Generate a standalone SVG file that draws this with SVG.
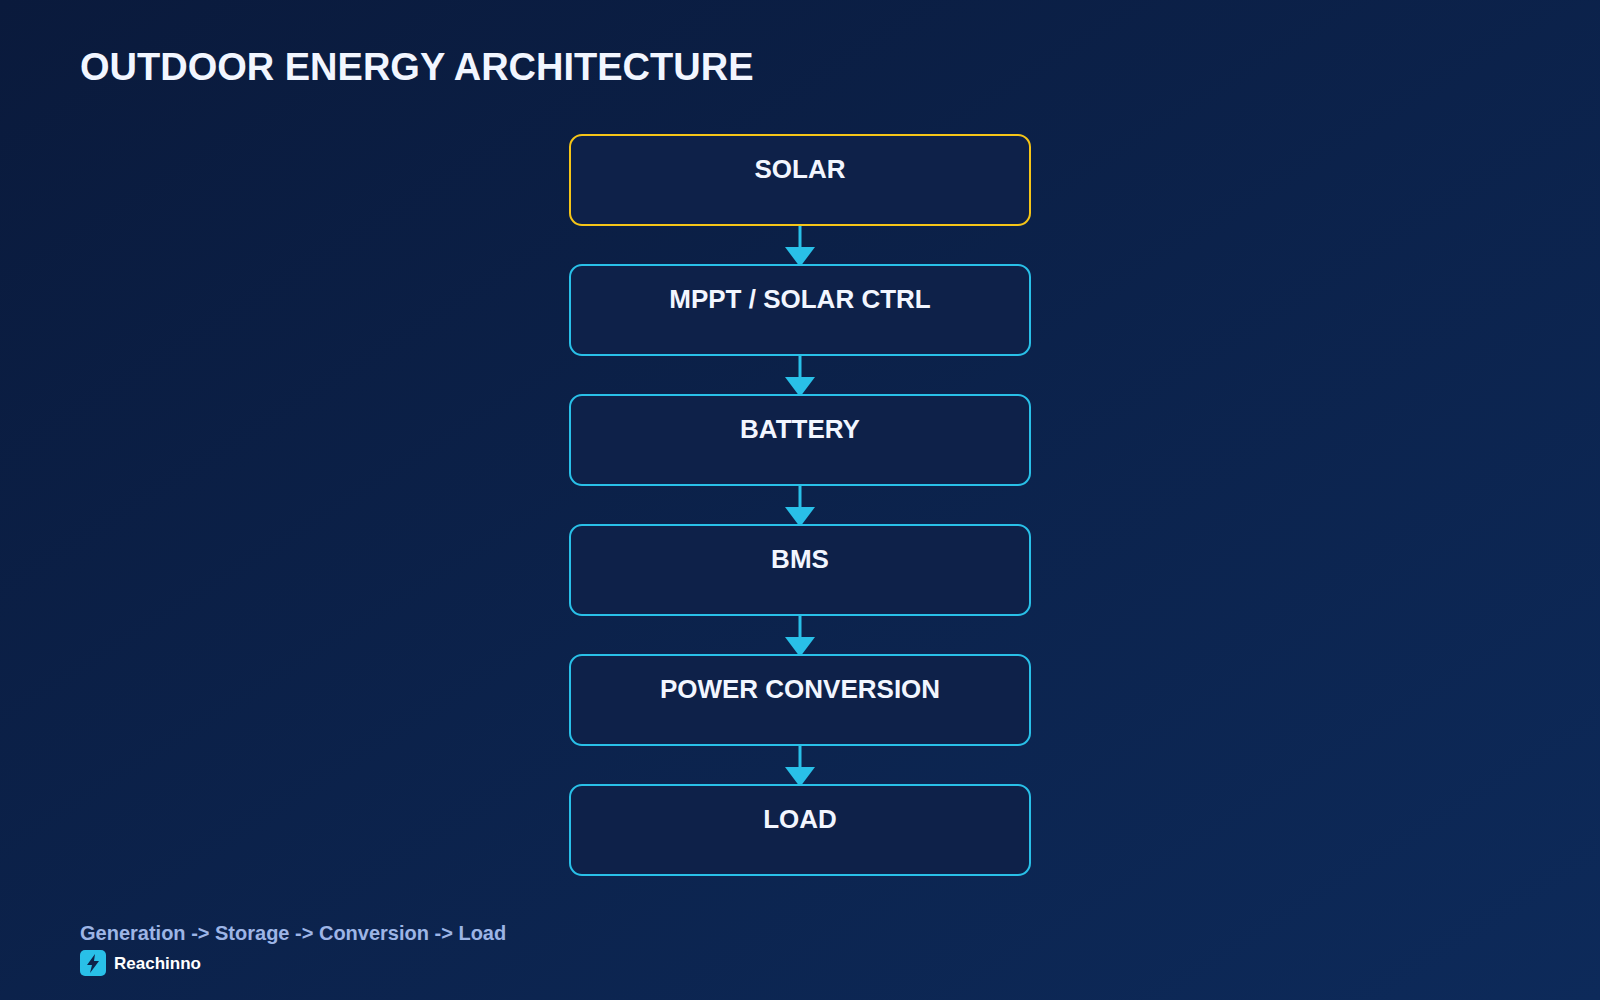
<svg xmlns="http://www.w3.org/2000/svg" width="1600" height="1000" viewBox="0 0 1600 1000">
<defs>
<linearGradient id="bg" x1="0" y1="0" x2="1" y2="1">
<stop offset="0" stop-color="#0a1a3c"/><stop offset="1" stop-color="#0d2a5a"/>
</linearGradient>
<marker id="ah" viewBox="0 0 20 30" refX="20" refY="15" markerWidth="20" markerHeight="30" markerUnits="userSpaceOnUse" orient="auto">
<path d="M0,0 L20,15 L0,30 Z" fill="#29c0e8"/>
</marker>
<style>
.box{fill:#0e2149;stroke:#29c0e8;stroke-width:2}
.lbl{font-family:"Liberation Sans",Arial,sans-serif;font-weight:bold;font-size:26px;fill:#f2f6ff;text-anchor:middle}
.con{stroke:#29c0e8;stroke-width:3;fill:none;marker-end:url(#ah)}
</style>
</defs>
<rect width="1600" height="1000" fill="url(#bg)"/>
<text x="80" y="80" font-family="Liberation Sans,Arial,sans-serif" font-weight="bold" font-size="38" fill="#f2f6ff">OUTDOOR ENERGY ARCHITECTURE</text>
<g id="connectors">
<path class="con" d="M800,225 V267"/>
<path class="con" d="M800,355 V397"/>
<path class="con" d="M800,485 V527"/>
<path class="con" d="M800,615 V657"/>
<path class="con" d="M800,745 V787"/>
</g>
<g id="solar"><rect class="box" x="570" y="135" width="460" height="90" rx="12" style="stroke:#f5c518"/><text class="lbl" x="800" y="178">SOLAR</text></g>
<g id="mppt"><rect class="box" x="570" y="265" width="460" height="90" rx="12"/><text class="lbl" x="800" y="308">MPPT / SOLAR CTRL</text></g>
<g id="battery"><rect class="box" x="570" y="395" width="460" height="90" rx="12"/><text class="lbl" x="800" y="438">BATTERY</text></g>
<g id="bms"><rect class="box" x="570" y="525" width="460" height="90" rx="12"/><text class="lbl" x="800" y="568">BMS</text></g>
<g id="power"><rect class="box" x="570" y="655" width="460" height="90" rx="12"/><text class="lbl" x="800" y="698">POWER CONVERSION</text></g>
<g id="load"><rect class="box" x="570" y="785" width="460" height="90" rx="12"/><text class="lbl" x="800" y="828">LOAD</text></g>
<text x="80" y="940" font-family="Liberation Sans,Arial,sans-serif" font-weight="bold" font-size="20" fill="#9db5e6">Generation -&gt; Storage -&gt; Conversion -&gt; Load</text>
<g id="logo">
<rect x="80" y="950" width="26" height="26" rx="5" fill="#29c0e8"/>
<path d="M95,954 L87,965 L92,965 L90,973 L99,961 L94,961 Z" fill="#0e2149"/>
<text x="114" y="969" font-family="Liberation Sans,Arial,sans-serif" font-weight="bold" font-size="17" fill="#ffffff">Reachinno</text>
</g>
</svg>
